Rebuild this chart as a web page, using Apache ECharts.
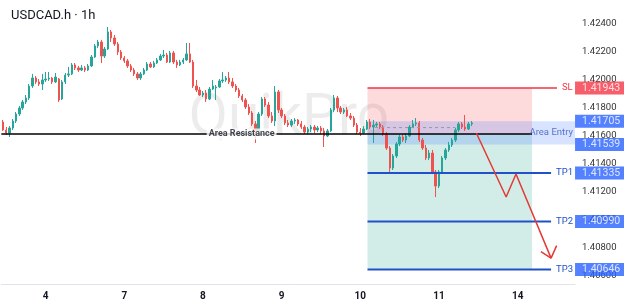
<!DOCTYPE html>
<html><head><meta charset="utf-8">
<script src="https://cdn.jsdelivr.net/npm/echarts@6/dist/echarts.min.js"></script>
<style>html,body{margin:0;padding:0;background:#fff}#c{width:624px;height:305px}</style>
</head><body><div id="c"></div>
<script>
// ---- x axis (hourly bars, trading days) ----
const slotCount = 175;
const dayLabels = ['4','7','8','9','10','11','14'];
const dayStartBar = [13,37,61,85,109,133,157];

// ---- y axis ----
const priceTop = 1.42571;
const priceBottom = 1.40543;
const yTicks = [1.406,1.408,1.410,1.412,1.414,1.416,1.418,1.420,1.422,1.424];

// ---- USDCAD.h 1h candles ----
const opens = [
1.41700,1.41643,1.41621,1.41657,1.41707,1.41757,1.41800,1.41843,1.41871,1.41957,1.42014,1.41986,
1.41971,1.42000,1.42007,1.42014,1.41986,1.42007,1.41864,1.41986,1.42035,1.42043,1.42107,1.42086,
1.42071,1.42086,1.42071,1.42100,1.42164,1.42243,1.42271,1.42171,1.42221,1.42343,1.42300,1.42257,
1.42200,1.42157,1.42136,1.42100,1.42071,1.42043,1.42014,1.42043,1.42071,1.42114,1.42093,1.42121,
1.42143,1.42171,1.42178,1.42128,1.42193,1.42128,1.42107,1.42128,1.42143,1.42186,1.42128,1.41957,
1.41928,1.41893,1.41907,1.41864,1.41935,1.41943,1.41950,1.41993,1.42000,1.42014,1.41986,1.41957,
1.41928,1.41886,1.41857,1.41807,1.41764,1.41686,1.41636,1.41757,1.41864,1.41821,1.41743,1.41707,
1.41914,1.41786,1.41743,1.41693,1.41678,1.41707,1.41714,1.41686,1.41664,1.41628,1.41650,1.41664,
1.41643,1.41657,1.41636,1.41600,1.41636,1.41786,1.41871,1.41800,1.41771,1.41786,1.41743,1.41728,
1.41678,1.41628,1.41621,1.41650,1.41700,1.41664,1.41678,1.41686,1.41664,1.41614,1.41514,1.41371,
1.41457,1.41543,1.41593,1.41571,1.41600,1.41664,1.41686,1.41693,1.41571,1.41514,1.41443,1.41478,
1.41343,1.41243,1.41343,1.41443,1.41500,1.41536,1.41571,1.41643,1.41686,1.41664,1.41650,1.41686];
const closes = [
1.41643,1.41621,1.41657,1.41707,1.41757,1.41800,1.41843,1.41871,1.41957,1.42014,1.41986,1.41971,
1.42000,1.42007,1.42014,1.41986,1.42021,1.41857,1.41986,1.42035,1.42043,1.42107,1.42086,1.42071,
1.42086,1.42071,1.42100,1.42164,1.42243,1.42271,1.42171,1.42221,1.42343,1.42300,1.42257,1.42200,
1.42157,1.42136,1.42100,1.42071,1.42043,1.42014,1.42043,1.42071,1.42114,1.42093,1.42121,1.42143,
1.42171,1.42178,1.42128,1.42193,1.42128,1.42107,1.42128,1.42143,1.42186,1.42128,1.41957,1.41928,
1.41893,1.41907,1.41864,1.41935,1.41957,1.41950,1.41993,1.42000,1.42014,1.41986,1.41957,1.41928,
1.41886,1.41857,1.41807,1.41764,1.41686,1.41636,1.41757,1.41864,1.41821,1.41743,1.41707,1.41914,
1.41786,1.41743,1.41693,1.41678,1.41707,1.41714,1.41686,1.41664,1.41628,1.41650,1.41664,1.41643,
1.41657,1.41636,1.41600,1.41636,1.41786,1.41871,1.41800,1.41771,1.41786,1.41743,1.41728,1.41678,
1.41628,1.41621,1.41650,1.41700,1.41664,1.41678,1.41686,1.41664,1.41614,1.41514,1.41371,1.41457,
1.41543,1.41593,1.41571,1.41600,1.41664,1.41686,1.41693,1.41571,1.41514,1.41443,1.41478,1.41343,
1.41243,1.41343,1.41443,1.41500,1.41536,1.41571,1.41643,1.41686,1.41664,1.41650,1.41686,1.41693];
const lows = [
1.41636,1.41607,1.41593,1.41643,1.41693,1.41743,1.41786,1.41828,1.41857,1.41943,1.41971,1.41957,
1.41928,1.41986,1.41993,1.41971,1.41978,1.41843,1.41857,1.41971,1.42021,1.42035,1.42071,1.42057,
1.42064,1.42057,1.42064,1.42093,1.42157,1.42228,1.42121,1.42157,1.42214,1.42271,1.42243,1.42178,
1.42143,1.42121,1.42086,1.42057,1.42028,1.42000,1.42000,1.42035,1.42064,1.42086,1.42086,1.42114,
1.42136,1.42157,1.42121,1.42121,1.42114,1.42086,1.42100,1.42114,1.42136,1.42121,1.41943,1.41914,
1.41886,1.41878,1.41843,1.41857,1.41928,1.41857,1.41943,1.41978,1.41986,1.41971,1.41943,1.41914,
1.41871,1.41843,1.41793,1.41750,1.41671,1.41550,1.41614,1.41743,1.41807,1.41728,1.41693,1.41671,
1.41764,1.41728,1.41678,1.41664,1.41664,1.41686,1.41671,1.41650,1.41614,1.41614,1.41628,1.41621,
1.41628,1.41614,1.41521,1.41593,1.41628,1.41771,1.41771,1.41757,1.41757,1.41735,1.41714,1.41664,
1.41614,1.41600,1.41614,1.41643,1.41650,1.41550,1.41664,1.41650,1.41600,1.41500,1.41343,1.41357,
1.41443,1.41528,1.41557,1.41550,1.41593,1.41657,1.41671,1.41557,1.41500,1.41428,1.41428,1.41328,
1.41164,1.41228,1.41328,1.41428,1.41486,1.41521,1.41557,1.41628,1.41650,1.41636,1.41643,1.41671];
const highs = [
1.41714,1.41664,1.41671,1.41721,1.41771,1.41814,1.41857,1.41893,1.41971,1.42043,1.42028,1.42007,
1.42043,1.42057,1.42057,1.42021,1.42050,1.42014,1.42000,1.42050,1.42093,1.42121,1.42121,1.42100,
1.42107,1.42100,1.42114,1.42178,1.42257,1.42286,1.42286,1.42236,1.42378,1.42357,1.42321,1.42271,
1.42214,1.42171,1.42150,1.42114,1.42086,1.42057,1.42057,1.42086,1.42128,1.42128,1.42136,1.42157,
1.42186,1.42214,1.42193,1.42207,1.42207,1.42143,1.42143,1.42157,1.42264,1.42264,1.42143,1.42000,
1.41950,1.41921,1.41928,1.41950,1.42000,1.41964,1.42007,1.42057,1.42028,1.42057,1.42014,1.41971,
1.41943,1.41900,1.41871,1.41828,1.41778,1.41707,1.41771,1.41878,1.41878,1.41843,1.41771,1.41957,
1.41928,1.41800,1.41757,1.41714,1.41721,1.41728,1.41721,1.41707,1.41678,1.41664,1.41678,1.41678,
1.41671,1.41671,1.41657,1.41650,1.41800,1.41893,1.41886,1.41814,1.41800,1.41807,1.41764,1.41743,
1.41693,1.41657,1.41671,1.41714,1.41721,1.41714,1.41700,1.41700,1.41678,1.41628,1.41528,1.41471,
1.41557,1.41607,1.41614,1.41621,1.41678,1.41714,1.41728,1.41707,1.41586,1.41536,1.41500,1.41500,
1.41357,1.41357,1.41457,1.41514,1.41557,1.41586,1.41657,1.41700,1.41700,1.41750,1.41700,1.41707];

// ---- trade plan levels ----
const slPrice = 1.41943;
const entryHigh = 1.41705;
const entryLow = 1.41539;
const resistance = 1.41614;
const tpNames = ['TP1','TP2','TP3'];
const tpPrices = [1.41335, 1.40990, 1.40646];
const lastPrice = 1.41660;
// drawing extents in bar units
const toolStart = 111.2, toolEnd = 161.4, entryEnd = 174.5;
const slLineEnd = 169.0, tpLineEnd = 167.2;
// projected path [bar, price]
const arrowPath = [[144.4,1.41621],[153.5,1.41164],[156.5,1.41328],[167.2,1.40728]];
const arrowHead = [[164.1,1.40774],[167.2,1.40728],[168.9,1.40817]];

const UP = '#26a69a', DOWN = '#ef5350', RED = '#f23645', BLUE = '#2962ff', LINEBLUE = '#2150c8';

const categories = [];
for (let i = 0; i < slotCount; i++) {
  const k = dayStartBar.indexOf(i);
  categories.push(k >= 0 ? dayLabels[k] : '');
}
const candles = opens.map((o, i) => [o, closes[i], lows[i], highs[i]]);

const zones = [
  [toolStart, toolEnd, slPrice, resistance],
  [toolStart, toolEnd, resistance, tpPrices[2]],
  [toolStart, entryEnd, entryHigh, entryLow]
];
const zoneColors = ['rgba(242,54,69,0.18)', 'rgba(8,153,129,0.18)', 'rgba(41,98,255,0.18)'];

const boxPrices = [slPrice, entryHigh, entryLow].concat(tpPrices);
const boxColors = [RED, BLUE, BLUE, BLUE, BLUE, BLUE];

function levelLine(name, x0, x1, price, color, width, label) {
  return {
    type: 'line', xAxisIndex: 1, yAxisIndex: 0, z: 4, symbol: 'none', silent: true,
    data: [[x0, price], [x1, price]],
    lineStyle: { color: color, width: width },
    endLabel: label ? { show: true, formatter: label, color: color, fontSize: 9.5, distance: 5 } : { show: false }
  };
}

const series = [
  {
    type: 'custom', xAxisIndex: 1, yAxisIndex: 0, z: 1, silent: true,
    data: zones,
    encode: { x: [0, 1], y: [2, 3] },
    renderItem: function (params, api) {
      const p0 = api.coord([api.value(0), api.value(2)]);
      const p1 = api.coord([api.value(1), api.value(3)]);
      return { type: 'rect', shape: { x: p0[0], y: p0[1], width: p1[0] - p0[0], height: p1[1] - p0[1] },
               style: { fill: zoneColors[params.dataIndex] } };
    }
  },
  {
    type: 'candlestick', xAxisIndex: 0, yAxisIndex: 0, z: 3,
    data: candles, barWidth: 1.9,
    itemStyle: { color: UP, color0: DOWN, borderColor: UP, borderColor0: DOWN, borderWidth: 1 }
  },
  levelLine('res', -0.5, toolEnd, resistance, '#000000', 1.5, null),
  levelLine('sl', toolStart, slLineEnd, slPrice, RED, 1.5, 'SL'),
  levelLine('tp1', toolStart, tpLineEnd, tpPrices[0], LINEBLUE, 2, tpNames[0]),
  levelLine('tp2', toolStart, tpLineEnd, tpPrices[1], LINEBLUE, 2, tpNames[1]),
  levelLine('tp3', toolStart, tpLineEnd, tpPrices[2], LINEBLUE, 2, tpNames[2]),
  {
    type: 'line', xAxisIndex: 1, yAxisIndex: 0, z: 4, symbol: 'none', silent: true,
    data: [[113.5, lastPrice], [138, lastPrice]],
    lineStyle: { color: '#9598a1', width: 1, type: [3, 3] }
  },
  {
    type: 'line', xAxisIndex: 1, yAxisIndex: 0, z: 5, symbol: 'none', silent: true,
    data: arrowPath, lineStyle: { color: '#e53935', width: 1.5 }
  },
  {
    type: 'line', xAxisIndex: 1, yAxisIndex: 0, z: 5, symbol: 'none', silent: true,
    data: arrowHead, lineStyle: { color: '#e53935', width: 1.5 }
  },
  {
    type: 'scatter', xAxisIndex: 1, yAxisIndex: 0, z: 6, silent: true, clip: false,
    symbolSize: 0.1, itemStyle: { color: 'transparent' },
    data: [
      { value: [72.8, resistance], label: { show: true, position: 'inside', formatter: 'Area Resistance',
        color: '#131722', fontSize: 9, fontWeight: 'bold', backgroundColor: '#ffffff', padding: [1, 2, 1, 2] } },
      { value: [entryEnd, (entryHigh + entryLow) / 2], label: { show: true, position: 'left', distance: 2,
        formatter: 'Area Entry', color: '#3456c0', fontSize: 9.5 } }
    ]
  },
  {
    type: 'scatter', xAxisIndex: 1, yAxisIndex: 0, z: 7, silent: true, clip: false,
    symbolSize: 0.1, itemStyle: { color: 'transparent' },
    data: boxPrices.map((p, i) => ({
      value: [slotCount - 0.5, p],
      label: { show: true, position: 'right', distance: 0, formatter: p.toFixed(5), color: '#ffffff',
        fontSize: 10.5, lineHeight: 11, backgroundColor: boxColors[i], padding: [1, 8, 1, 7] }
    }))
  }
];

const chart = echarts.init(document.getElementById('c'), null, { renderer: 'canvas' });
chart.setOption({
  animation: false,
  backgroundColor: '#ffffff',
  textStyle: { fontFamily: 'Roboto' },
  title: { text: 'USDCAD.h · 1h', left: 6, top: 4,
    textStyle: { fontSize: 13, fontWeight: 'normal', color: '#131722', fontFamily: 'Roboto' } },
  graphic: [{ type: 'text', x: 289, y: 120, z: 0, silent: true,
    style: { text: 'QuikPro', font: '57px Roboto', fill: 'rgba(0,0,0,0.075)', textAlign: 'center', textVerticalAlign: 'middle' } }],
  grid: { left: 0, right: 49, top: 0, bottom: 21 },
  xAxis: [
    { type: 'category', data: categories, boundaryGap: true,
      axisLine: { lineStyle: { color: '#e0e3eb' } }, axisTick: { show: false }, splitLine: { show: false },
      axisLabel: { interval: 0, color: '#131722', fontSize: 10, fontWeight: 'bold', margin: 7 } },
    { type: 'value', min: -0.5, max: slotCount - 0.5, show: false }
  ],
  yAxis: [{
    type: 'value', position: 'right', min: priceBottom, max: priceTop, scale: true,
    axisLine: { show: false }, axisTick: { show: false }, splitLine: { show: false },
    axisLabel: { customValues: yTicks, formatter: v => v.toFixed(5), color: '#333333', fontSize: 9.5, margin: 7 }
  }],
  series: series
});
</script></body></html>
